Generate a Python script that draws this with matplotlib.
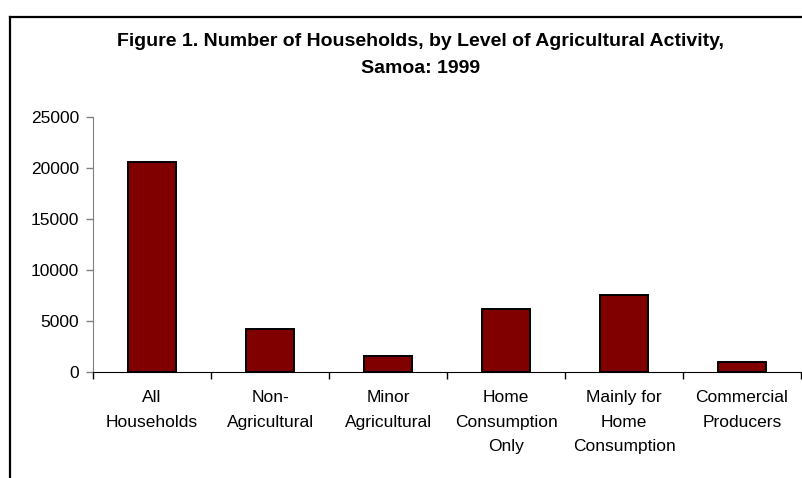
import matplotlib.pyplot as plt
from matplotlib.lines import Line2D
import numpy as np

categories = ["All\nHouseholds", "Non-\nAgricultural", "Minor\nAgricultural",
              "Home\nConsumption\nOnly", "Mainly for\nHome\nConsumption",
              "Commercial\nProducers"]
households = [20600, 4240, 1630, 6230, 7540, 980]
yticks = [0, 5000, 10000, 15000, 20000, 25000]

plt.rcParams['font.family'] = ['Liberation Sans', 'DejaVu Sans']

fig = plt.figure(figsize=(8.02, 4.78), dpi=100)
ax = fig.add_axes([0.116, 0.221, 0.8828, 0.534])

x = np.arange(len(categories))
ax.bar(x, households, width=0.4, color='#800000', edgecolor='black', linewidth=1.4)

ax.set_xlim(-0.5, len(categories) - 0.5)
ax.set_ylim(0, 25000)
ax.set_yticks(yticks)
ax.set_yticklabels([str(v) for v in yticks], fontsize=12.5)

# category labels centred under bars, tick marks between categories
ax.set_xticks(x)
ax.set_xticklabels(categories, fontsize=12.5, linespacing=1.76, va='top')
ax.tick_params(axis='x', which='major', length=0, pad=13)
ax.set_xticks(np.arange(-0.5, len(categories)), minor=True)
ax.tick_params(axis='x', which='minor', length=5, width=1, color='black', direction='out')
ax.tick_params(axis='y', length=5, width=1, color='#808080', pad=5)

for side in ('top', 'right'):
    ax.spines[side].set_visible(False)
ax.spines['left'].set_color('#808080')
ax.spines['bottom'].set_color('black')

fig.text(0.524, 0.913, "Figure 1. Number of Households, by Level of Agricultural Activity,",
         ha='center', va='center', fontsize=14, fontweight='bold')
fig.text(0.524, 0.856, "Samoa: 1999", ha='center', va='center', fontsize=14, fontweight='bold')

# chart frame
fx, fy = 9.5 / 802, 1 - 16.5 / 478
fig.add_artist(Line2D([fx, fx], [0, fy], transform=fig.transFigure, color='black', linewidth=1.6))
fig.add_artist(Line2D([fx, 1], [fy, fy], transform=fig.transFigure, color='black', linewidth=1.6))

fig.savefig('out.png', dpi=100)
